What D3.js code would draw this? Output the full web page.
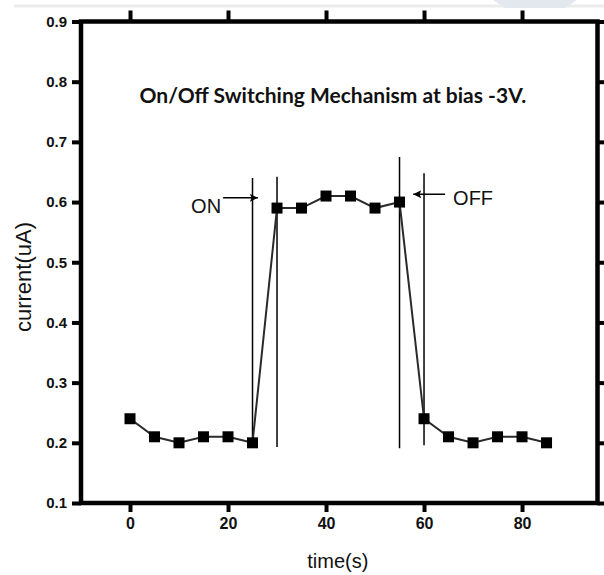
<!DOCTYPE html>
<html>
<head>
<meta charset="utf-8">
<script src="https://cdn.jsdelivr.net/npm/d3@7"></script>
<style>
  html, body { margin: 0; padding: 0; background: #fff; }
  svg { display: block; }
</style>
</head>
<body>
<div id="chart"></div>
<script>
// Messwerte: Zeit in s, Strom in uA
const times = [0, 5, 10, 15, 20, 25, 30, 35, 40, 45, 50, 55, 60, 65, 70, 75, 80, 85]
const currents = [0.24, 0.21, 0.20, 0.21, 0.21, 0.20, 0.59, 0.59, 0.61, 0.61, 0.59, 0.60, 0.24, 0.21, 0.20, 0.21, 0.21, 0.20]

const xTicks = [0, 20, 40, 60, 80]
const yTicks = [0.1, 0.2, 0.3, 0.4, 0.5, 0.6, 0.7, 0.8, 0.9]

// senkrechte Markierungslinien beim Ein-/Ausschalten: [t, von, bis]
const switchLines = [
  [25, 0.20, 0.64],
  [30, 0.193, 0.642],
  [55, 0.191, 0.675],
  [60, 0.196, 0.648]
]

// Pfeile: [label, t-start, t-spitze, strom]
const arrows = [
  ['ON', 19.0, 26.1, 0.607],
  ['OFF', 64.3, 57.8, 0.613]
]

const title = 'On/Off Switching Mechanism at bias -3V.'
const xTitle = 'time(s)'
const yTitle = 'current(uA)'

const width = 604
const height = 575
const margin = ({top: 21.5, right: 6.5, bottom: 72, left: 81})

const x = d3.scaleLinear()
  .domain([-10, 95.4])
  .range([margin.left, width - margin.right])

const y = d3.scaleLinear()
  .domain([0.1, 0.9])
  .range([height - margin.bottom, margin.top])

const svg = d3.select('#chart').append('svg')
  .attr('width', width)
  .attr('height', height)

// grauer Rand oben (Scan)
svg.append('line')
  .attr('x1', 14).attr('x2', width)
  .attr('y1', 6).attr('y2', 6)
  .attr('stroke', '#ececec')
  .attr('stroke-width', 3)
svg.append('path')
  .attr('d', 'M493,0 L577,0 L565,8 L505,8 Z')
  .attr('fill', '#e3e8ef')

const axisStyle = g => g
  .call(g => g.select('.domain').remove())
  .call(g => g.selectAll('.tick line').attr('stroke', '#000').attr('stroke-width', 4))

// Achsen
svg.append('g')
  .attr('transform', `translate(0,${y(0.1)})`)
  .call(d3.axisBottom(x).tickValues(xTicks).tickSize(9).tickPadding(6).tickFormat(d3.format('d')))
  .call(axisStyle)
  .call(g => g.selectAll('.tick text')
    .attr('fill', '#111')
    .attr('font-family', 'Liberation Sans, Arial, sans-serif')
    .attr('font-weight', 'bold')
    .attr('font-size', 16))

svg.append('g')
  .attr('transform', `translate(0,${y(0.9)})`)
  .call(d3.axisTop(x).tickValues(xTicks).tickSize(11).tickFormat(''))
  .call(axisStyle)

svg.append('g')
  .attr('transform', `translate(${x(-10)},0)`)
  .call(d3.axisLeft(y).tickValues(yTicks).tickSize(9).tickPadding(5).tickFormat(d3.format('.1f')))
  .call(axisStyle)
  .call(g => g.selectAll('.tick text')
    .attr('fill', '#111')
    .attr('font-family', 'Liberation Sans, Arial, sans-serif')
    .attr('font-weight', 'bold')
    .attr('font-size', 15))

svg.append('g')
  .attr('transform', `translate(${x(95.4)},0)`)
  .call(d3.axisRight(y).tickValues(yTicks).tickSize(10).tickFormat(''))
  .call(axisStyle)

// Rahmen
svg.append('rect')
  .attr('x', x(-10))
  .attr('y', y(0.9))
  .attr('width', x(95.4) - x(-10))
  .attr('height', y(0.1) - y(0.9))
  .attr('fill', 'none')
  .attr('stroke', '#000')
  .attr('stroke-width', 4.5)

// Schaltlinien
svg.append('g')
  .selectAll('line')
  .data(switchLines)
  .join('line')
  .attr('x1', d => x(d[0]))
  .attr('x2', d => x(d[0]))
  .attr('y1', d => y(d[1]))
  .attr('y2', d => y(d[2]))
  .attr('stroke', '#000')
  .attr('stroke-width', 1.5)

// Messkurve
const points = times.map((t, i) => [t, currents[i]])

svg.append('path')
  .datum(points)
  .attr('fill', 'none')
  .attr('stroke', '#2a2a2a')
  .attr('stroke-width', 2)
  .attr('d', d3.line().x(d => x(d[0])).y(d => y(d[1])))

const size = 11
svg.append('g')
  .selectAll('rect')
  .data(points)
  .join('rect')
  .attr('x', d => x(d[0]) - size / 2)
  .attr('y', d => y(d[1]) - size / 2)
  .attr('width', size)
  .attr('height', size)
  .attr('fill', '#000')

// Pfeile mit Beschriftung
svg.append('defs').append('marker')
  .attr('id', 'head')
  .attr('viewBox', '0 0 10 10')
  .attr('refX', 10)
  .attr('refY', 5)
  .attr('markerWidth', 11)
  .attr('markerHeight', 8)
  .attr('markerUnits', 'userSpaceOnUse')
  .attr('orient', 'auto')
  .append('path')
  .attr('d', 'M0,0 L10,5 L0,10 L2,5 Z')
  .attr('fill', '#000')

const arrowG = svg.append('g')
  .selectAll('g')
  .data(arrows)
  .join('g')

arrowG.append('line')
  .attr('x1', d => x(d[1]))
  .attr('x2', d => x(d[2]))
  .attr('y1', d => y(d[3]))
  .attr('y2', d => y(d[3]))
  .attr('stroke', '#000')
  .attr('stroke-width', 1.5)
  .attr('marker-end', 'url(#head)')

arrowG.append('text')
  .attr('x', d => d[1] < d[2] ? x(d[1]) - 2 : x(d[1]) + 8)
  .attr('y', d => y(d[3]) + (d[1] < d[2] ? 15 : 11))
  .attr('text-anchor', d => d[1] < d[2] ? 'end' : 'start')
  .attr('font-family', 'Liberation Sans, Arial, sans-serif')
  .attr('font-size', 20)
  .attr('fill', '#111')
  .text(d => d[0])

// Titel
svg.append('text')
  .attr('x', x(41.4))
  .attr('y', 103)
  .attr('text-anchor', 'middle')
  .attr('font-family', 'Lato, sans-serif')
  .attr('font-weight', 'bold')
  .attr('font-size', 21)
  .attr('fill', '#111')
  .text(title)

// Achsentitel
svg.append('text')
  .attr('x', x(42.4))
  .attr('y', 568)
  .attr('text-anchor', 'middle')
  .attr('font-family', 'Liberation Sans, Arial, sans-serif')
  .attr('font-size', 20)
  .attr('fill', '#111')
  .text(xTitle)

svg.append('text')
  .attr('transform', `translate(31,277) rotate(-90)`)
  .attr('text-anchor', 'middle')
  .attr('font-family', 'Liberation Sans, Arial, sans-serif')
  .attr('font-size', 22)
  .attr('fill', '#111')
  .text(yTitle)
</script>
</body>
</html>
